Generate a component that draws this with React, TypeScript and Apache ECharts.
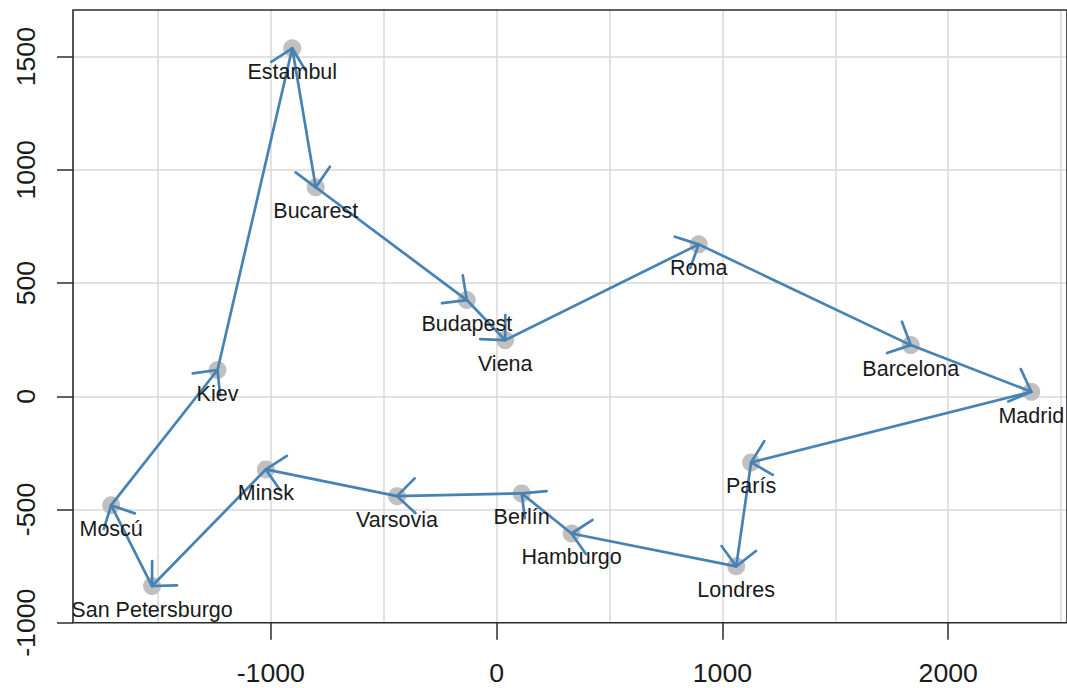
import React, { useEffect, useRef } from 'react';
import * as echarts from 'echarts';

// Route order (closed loop back to Madrid)
const cities = ['Madrid', 'París', 'Londres', 'Hamburgo', 'Berlín', 'Varsovia', 'Minsk', 'San Petersburgo', 'Moscú', 'Kiev', 'Estambul', 'Bucarest', 'Budapest', 'Viena', 'Roma', 'Barcelona'];
const xCoord = [2368, 1127, 1061, 332, 111, -441, -1022, -1526, -1707, -1236, -905, -801, -132, 38, 895, 1834];
const yCoord = [20, -292, -751, -606, -429, -441, -323, -838, -481, 116, 1537, 923, 425, 248, 671, 226];
const xTickValues = [-1000, 0, 1000, 2000];
const yTickValues = [-1000, -500, 0, 500, 1000, 1500];
const X_MIN = -1876;
const X_MAX = 2526;
const Y_MIN = -1000;
const Y_MAX = 1706;

const FONT = 'Liberation Sans, Arial, Helvetica, sans-serif';
const TEXT = '#1a1a1a';
const FRAME = '#2b2b2b';
const GRIDC = '#d9d9d9';
const BLUE = '#4682B4';

export default function App() {
  const ref = useRef<HTMLDivElement>(null);
  useEffect(() => {
    if (!ref.current) return;
    const chart = echarts.init(ref.current, null, { renderer: 'svg' });
    const points = cities.map((_, i) => [xCoord[i], yCoord[i]]);
    const segments = cities.map((_, i) => {
      const j = (i + 1) % cities.length;
      return [xCoord[i], yCoord[i], xCoord[j], yCoord[j]];
    });

    const renderArrow = (params: any, api: any) => {
      const p0 = api.coord([api.value(0), api.value(1)]);
      const p1 = api.coord([api.value(2), api.value(3)]);
      const ang = Math.atan2(p0[1] - p1[1], p0[0] - p1[0]);
      const L = 25;
      const A = (44 * Math.PI) / 180;
      const h1 = [p1[0] + L * Math.cos(ang + A), p1[1] + L * Math.sin(ang + A)];
      const h2 = [p1[0] + L * Math.cos(ang - A), p1[1] + L * Math.sin(ang - A)];
      const style = { stroke: BLUE, lineWidth: 2.7, fill: 'none', lineCap: 'round', lineJoin: 'round' };
      return {
        type: 'group',
        children: [
          { type: 'line', shape: { x1: p0[0], y1: p0[1], x2: p1[0], y2: p1[1] }, style },
          { type: 'polyline', shape: { points: [h1, p1, h2] }, style },
        ],
      };
    };

    const renderLabel = (params: any, api: any) => {
      const p = api.coord([api.value(0), api.value(1)]);
      const cs = params.coordSys;
      const tx = p[0];
      const ty = p[1] + 24;
      return {
        type: 'text',
        x: tx,
        y: ty,
        style: {
          text: cities[params.dataIndex],
          x: 0,
          y: 0,
          fill: TEXT,
          fontSize: 21.5,
          fontFamily: FONT,
          align: 'center',
          verticalAlign: 'middle',
        },
        clipPath: {
          type: 'rect',
          shape: { x: cs.x - tx, y: cs.y - ty, width: cs.width, height: cs.height },
        },
      };
    };

    const plain = (v: number) => String(v);

    const option: any = {
      animation: false,
      grid: {
        left: 73,
        top: 10,
        right: -3,
        bottom: 65.3,
        show: true,
        borderColor: FRAME,
        borderWidth: 1.6,
        backgroundColor: 'transparent',
        z: 1,
      },
      xAxis: [
        {
          type: 'value',
          min: X_MIN,
          max: X_MAX,
          splitNumber: 10,
          axisLine: { show: false, onZero: false },
          axisTick: { show: false },
          axisLabel: { show: false },
          splitLine: { show: true, showMinLine: false, showMaxLine: false, lineStyle: { color: GRIDC, width: 1.5 } },
        },
        {
          type: 'value',
          min: X_MIN,
          max: X_MAX,
          position: 'bottom',
          axisLine: { show: false, onZero: false },
          axisTick: { show: true, length: 17, customValues: xTickValues, lineStyle: { color: FRAME, width: 1.5 } },
          axisLabel: { customValues: xTickValues, formatter: plain, fontSize: 26.7, margin: 37, color: TEXT, fontFamily: FONT },
          splitLine: { show: false },
        },
      ],
      yAxis: [
        {
          type: 'value',
          min: Y_MIN,
          max: Y_MAX,
          interval: 500,
          axisLine: { show: false, onZero: false },
          axisTick: { show: false },
          axisLabel: { show: false },
          splitLine: { show: true, showMinLine: false, showMaxLine: false, lineStyle: { color: GRIDC, width: 1.5 } },
        },
        {
          type: 'value',
          min: Y_MIN,
          max: Y_MAX,
          position: 'left',
          axisLine: { show: false, onZero: false },
          axisTick: { show: true, length: 16, customValues: yTickValues, lineStyle: { color: FRAME, width: 1.5 } },
          axisLabel: { customValues: yTickValues, formatter: plain, rotate: 90, fontSize: 26.7, margin: 34, color: TEXT, fontFamily: FONT },
          splitLine: { show: false },
        },
      ],
      series: [
        {
          type: 'scatter',
          xAxisIndex: 0,
          yAxisIndex: 0,
          data: points,
          symbol: 'circle',
          symbolSize: 18,
          itemStyle: { color: '#c0c0c0', opacity: 1 },
          z: 2,
        },
        {
          type: 'custom',
          xAxisIndex: 0,
          yAxisIndex: 0,
          data: segments,
          encode: { x: [0, 2], y: [1, 3] },
          renderItem: renderArrow,
          z: 3,
        },
        {
          type: 'custom',
          xAxisIndex: 0,
          yAxisIndex: 0,
          data: points,
          encode: { x: 0, y: 1 },
          renderItem: renderLabel,
          z: 4,
        },
      ],
    };
    chart.setOption(option);
    return () => chart.dispose();
  }, []);
  return <div ref={ref} style={{ position: 'absolute', left: 0, top: 0, width: 1067, height: 688 }} />;
}
